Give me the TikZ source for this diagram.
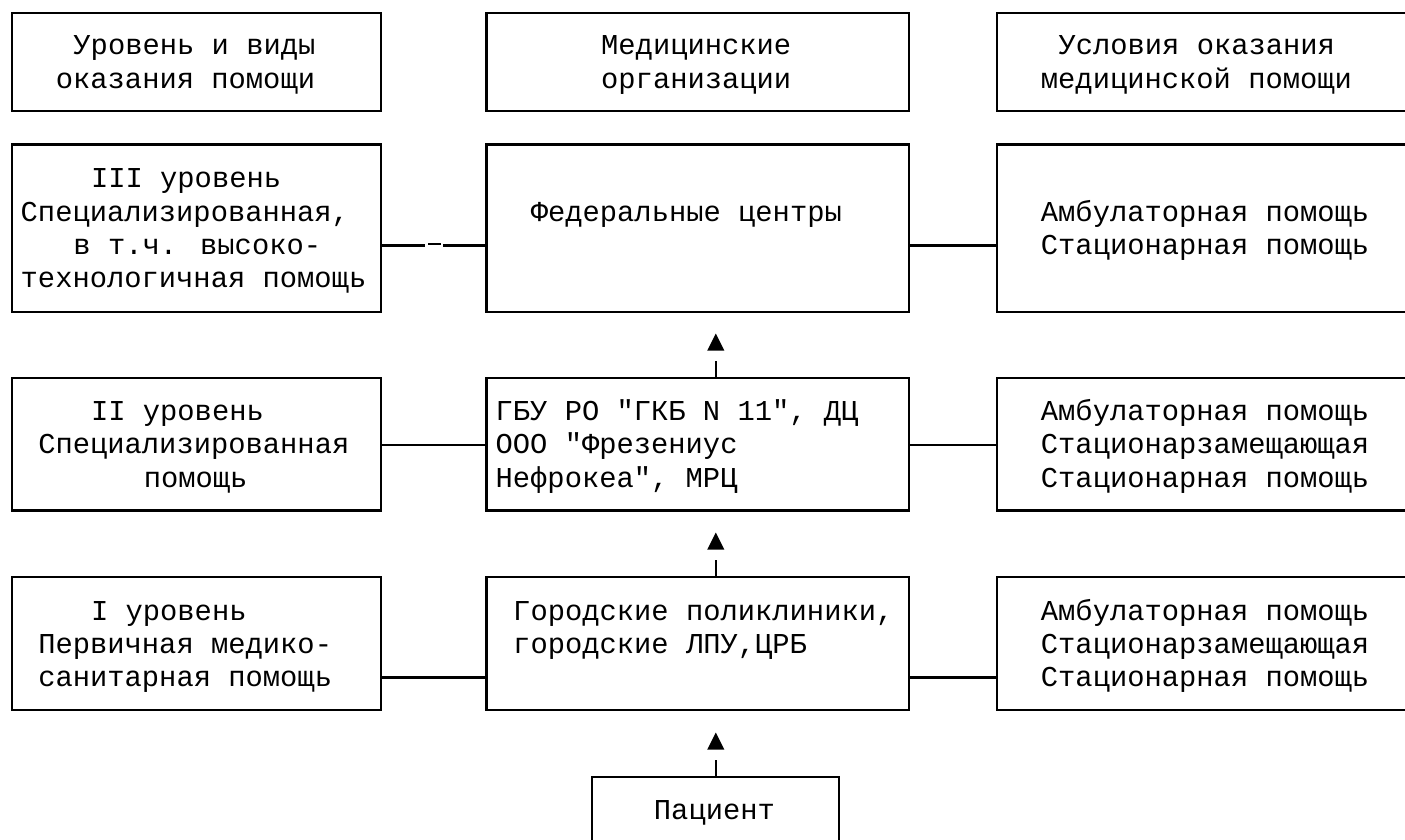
\documentclass[tikz,border=0pt]{standalone}
\usepackage{fontspec}
\newfontfamily\monofnt{Liberation Mono}
\usetikzlibrary{calc}
\newcommand\mybox[5]{\node[boxst,minimum width={#3-#2},minimum height={#5-#4}] (#1) at ({(#2+#3)/2},{(#4+#5)/2}) {};}
\newcommand\tl[4]{\node[txt] (#1) at ({11.7+(#2-0.5)*17.59},{21.7+33.24*#3}) {#4};}
\begin{document}
\begin{tikzpicture}[x=1pt,y=-1pt,
  boxst/.style={draw,line width=2.2pt,inner sep=0pt},
  txt/.style={font=\monofnt\fontsize{28.8}{33}\selectfont,inner sep=0pt,anchor=base west},
  conn/.style={line width=2.2pt}]
\useasboundingbox (0,0) rectangle (1405,839);
\clip (0,0) rectangle (1405,839);
% boxes
\mybox{LH}{11.7}{381}{12.7}{111}
\mybox{MH}{486.5}{909.3}{12.7}{111}
\mybox{RH}{997}{1419}{12.7}{111}
\mybox{L3}{11.7}{381}{144.5}{311.7}
\mybox{M3}{486.5}{909.3}{144.5}{311.7}
\mybox{R3}{997}{1419}{144.5}{311.7}
\mybox{L2}{11.7}{381}{378.3}{510.5}
\mybox{M2}{486.5}{909.3}{378.3}{510.5}
\mybox{R2}{997}{1419}{378.3}{510.5}
\mybox{L1}{11.7}{381}{577.3}{710.3}
\mybox{M1}{486.5}{909.3}{577.3}{710.3}
\mybox{R1}{997}{1419}{577.3}{710.3}
\mybox{P}{592.3}{839.3}{777.3}{880}
% texts
\tl{th1}{4}{1}{Уровень и виды}
\tl{th2}{3}{2}{оказания помощи}
\tl{tm1}{34}{1}{Медицинские}
\tl{tm2}{34}{2}{организации}
\tl{tr1}{60}{1}{Условия оказания}
\tl{tr2}{59}{2}{медицинской помощи}
\tl{a1}{5}{5}{III уровень}
\tl{a2}{1}{6}{Специализированная,}
\tl{a3}{4}{7}{в т.ч. высоко-}
\tl{a4}{1}{8}{технологичная помощь}
\tl{b1}{30}{6}{Федеральные центры}
\tl{c1}{59}{6}{Амбулаторная помощь}
\tl{c2}{59}{7}{Стационарная помощь}
\tl{d1}{5}{12}{II уровень}
\tl{d2}{2}{13}{Специализированная}
\tl{d3}{8}{14}{помощь}
\tl{e1}{28}{12}{ГБУ РО "ГКБ N 11", ДЦ}
\tl{e2}{28}{13}{ООО "Фрезениус}
\tl{e3}{28}{14}{Нефрокеа", МРЦ}
\tl{f1}{59}{12}{Амбулаторная помощь}
\tl{f2}{59}{13}{Стационарзамещающая}
\tl{f3}{59}{14}{Стационарная помощь}
\tl{g1}{5}{18}{I уровень}
\tl{g2}{2}{19}{Первичная медико-}
\tl{g3}{2}{20}{санитарная помощь}
\tl{h1}{29}{18}{Городские поликлиники,}
\tl{h2}{29}{19}{городские ЛПУ,ЦРБ}
\tl{k1}{59}{18}{Амбулаторная помощь}
\tl{k2}{59}{19}{Стационарзамещающая}
\tl{k3}{59}{20}{Стационарная помощь}
\tl{p1}{37}{24}{Пациент}
% connector rows
\coordinate (y3) at (0,245.4);
\coordinate (y2) at (0,444.6);
\coordinate (y1) at (0,677.5);
\coordinate (d3a) at (425,245.4);
\coordinate (d3b) at (428,244);
\coordinate (d3c) at (441,244);
\coordinate (d3d) at (443,245.4);
\draw[conn] (L3.east |- y3) -- (d3a);
\draw[conn] (d3b) -- (d3c);
\draw[conn] (d3d) -- (M3.west |- y3);
\draw[conn] (M3.east |- y3) -- (R3.west |- y3);
\draw[conn] (L2.east |- y2) -- (M2.west |- y2);
\draw[conn] (M2.east |- y2) -- (R2.west |- y2);
\draw[conn] (L1.east |- y1) -- (M1.west |- y1);
\draw[conn] (M1.east |- y1) -- (R1.west |- y1);
% upward arrows
\foreach \lo/\nm in {M2/s3, M1/s2, P/s1}{
  \draw[conn] (\lo.north -| P.north) -- ++(0,-16.6) coordinate (\nm);
  \fill (\nm) ++(-8.6,-10) -- ++(17.2,0) -- ++(-8.6,-17) -- cycle;
}
\end{tikzpicture}
\end{document}
